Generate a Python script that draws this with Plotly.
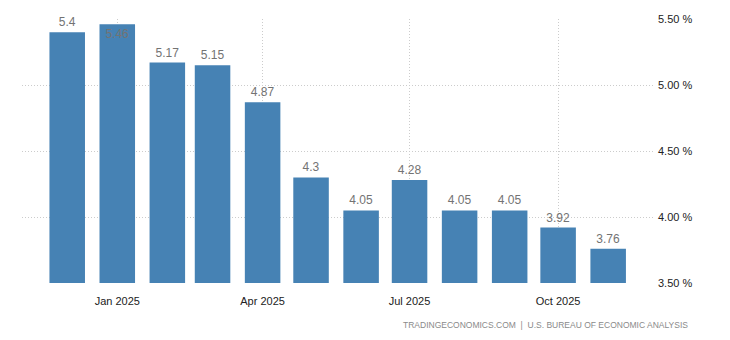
import plotly.graph_objects as go

months = ["2024-12-01", "2025-01-01", "2025-02-01", "2025-03-01", "2025-04-01", "2025-05-01",
          "2025-06-01", "2025-07-01", "2025-08-01", "2025-09-01", "2025-10-01", "2025-11-01"]
values = [5.4, 5.46, 5.17, 5.15, 4.87, 4.3, 4.05, 4.28, 4.05, 4.05, 3.92, 3.76]
labels = ["5.4", "5.46", "5.17", "5.15", "4.87", "4.3", "4.05", "4.28", "4.05", "4.05", "3.92", "3.76"]
tick_vals = ["2025-01-01", "2025-04-01", "2025-07-01", "2025-10-01"]
tick_text = ["Jan 2025", "Apr 2025", "Jul 2025", "Oct 2025"]
y_ticks = [3.5, 4.0, 4.5, 5.0, 5.5]
y_tick_text = ["3.50 %", "4.00 %", "4.50 %", "5.00 %", "5.50 %"]
source = "TRADINGECONOMICS.COM  |  U.S. BUREAU OF ECONOMIC ANALYSIS"

positions = ["inside" if v > 5.42 else "outside" for v in values]

fig = go.Figure(go.Bar(
    x=months, y=values, text=labels, textposition=positions,
    insidetextanchor="end",
    width=22 * 86400000,
    marker=dict(color="#4682B4", line=dict(width=0)),
    textfont=dict(family="Liberation Sans, Arial, sans-serif", size=12, color="#737373"),
    insidetextfont=dict(color="#737373"),
    outsidetextfont=dict(color="#737373"),
    cliponaxis=False,
    hoverinfo="skip",
))

fig.update_layout(
    width=730, height=340,
    margin=dict(l=22, r=75, t=19, b=57),
    paper_bgcolor="white", plot_bgcolor="white",
    showlegend=False,
    xaxis=dict(
        type="date", range=["2024-11-03", "2025-11-30"],
        tickmode="array", tickvals=tick_vals, ticktext=tick_text,
        showgrid=True, gridcolor="#cccccc", griddash="1px,2px", gridwidth=1,
        zeroline=False, showline=False, ticks="", ticklabelstandoff=10,
        tickfont=dict(family="Liberation Sans, Arial, sans-serif", size=11, color="#222222"),
    ),
    yaxis=dict(
        range=[3.5, 5.5], side="right",
        tickmode="array", tickvals=y_ticks, ticktext=y_tick_text,
        showgrid=True, gridcolor="#cccccc", griddash="1px,2px", gridwidth=1,
        zeroline=False, showline=False, ticks="", ticklabelstandoff=2,
        tickfont=dict(family="Liberation Sans, Arial, sans-serif", size=11, color="#222222"),
    ),
    annotations=[dict(
        text=source, xref="paper", yref="paper", x=(690 - 22) / 633, y=0,
        xanchor="right", yanchor="middle", showarrow=False,
        yshift=-42,
        font=dict(family="Liberation Sans, Arial, sans-serif", size=8.5, color="#8a8a8a"),
    )],
)

fig.write_html("out.html")
